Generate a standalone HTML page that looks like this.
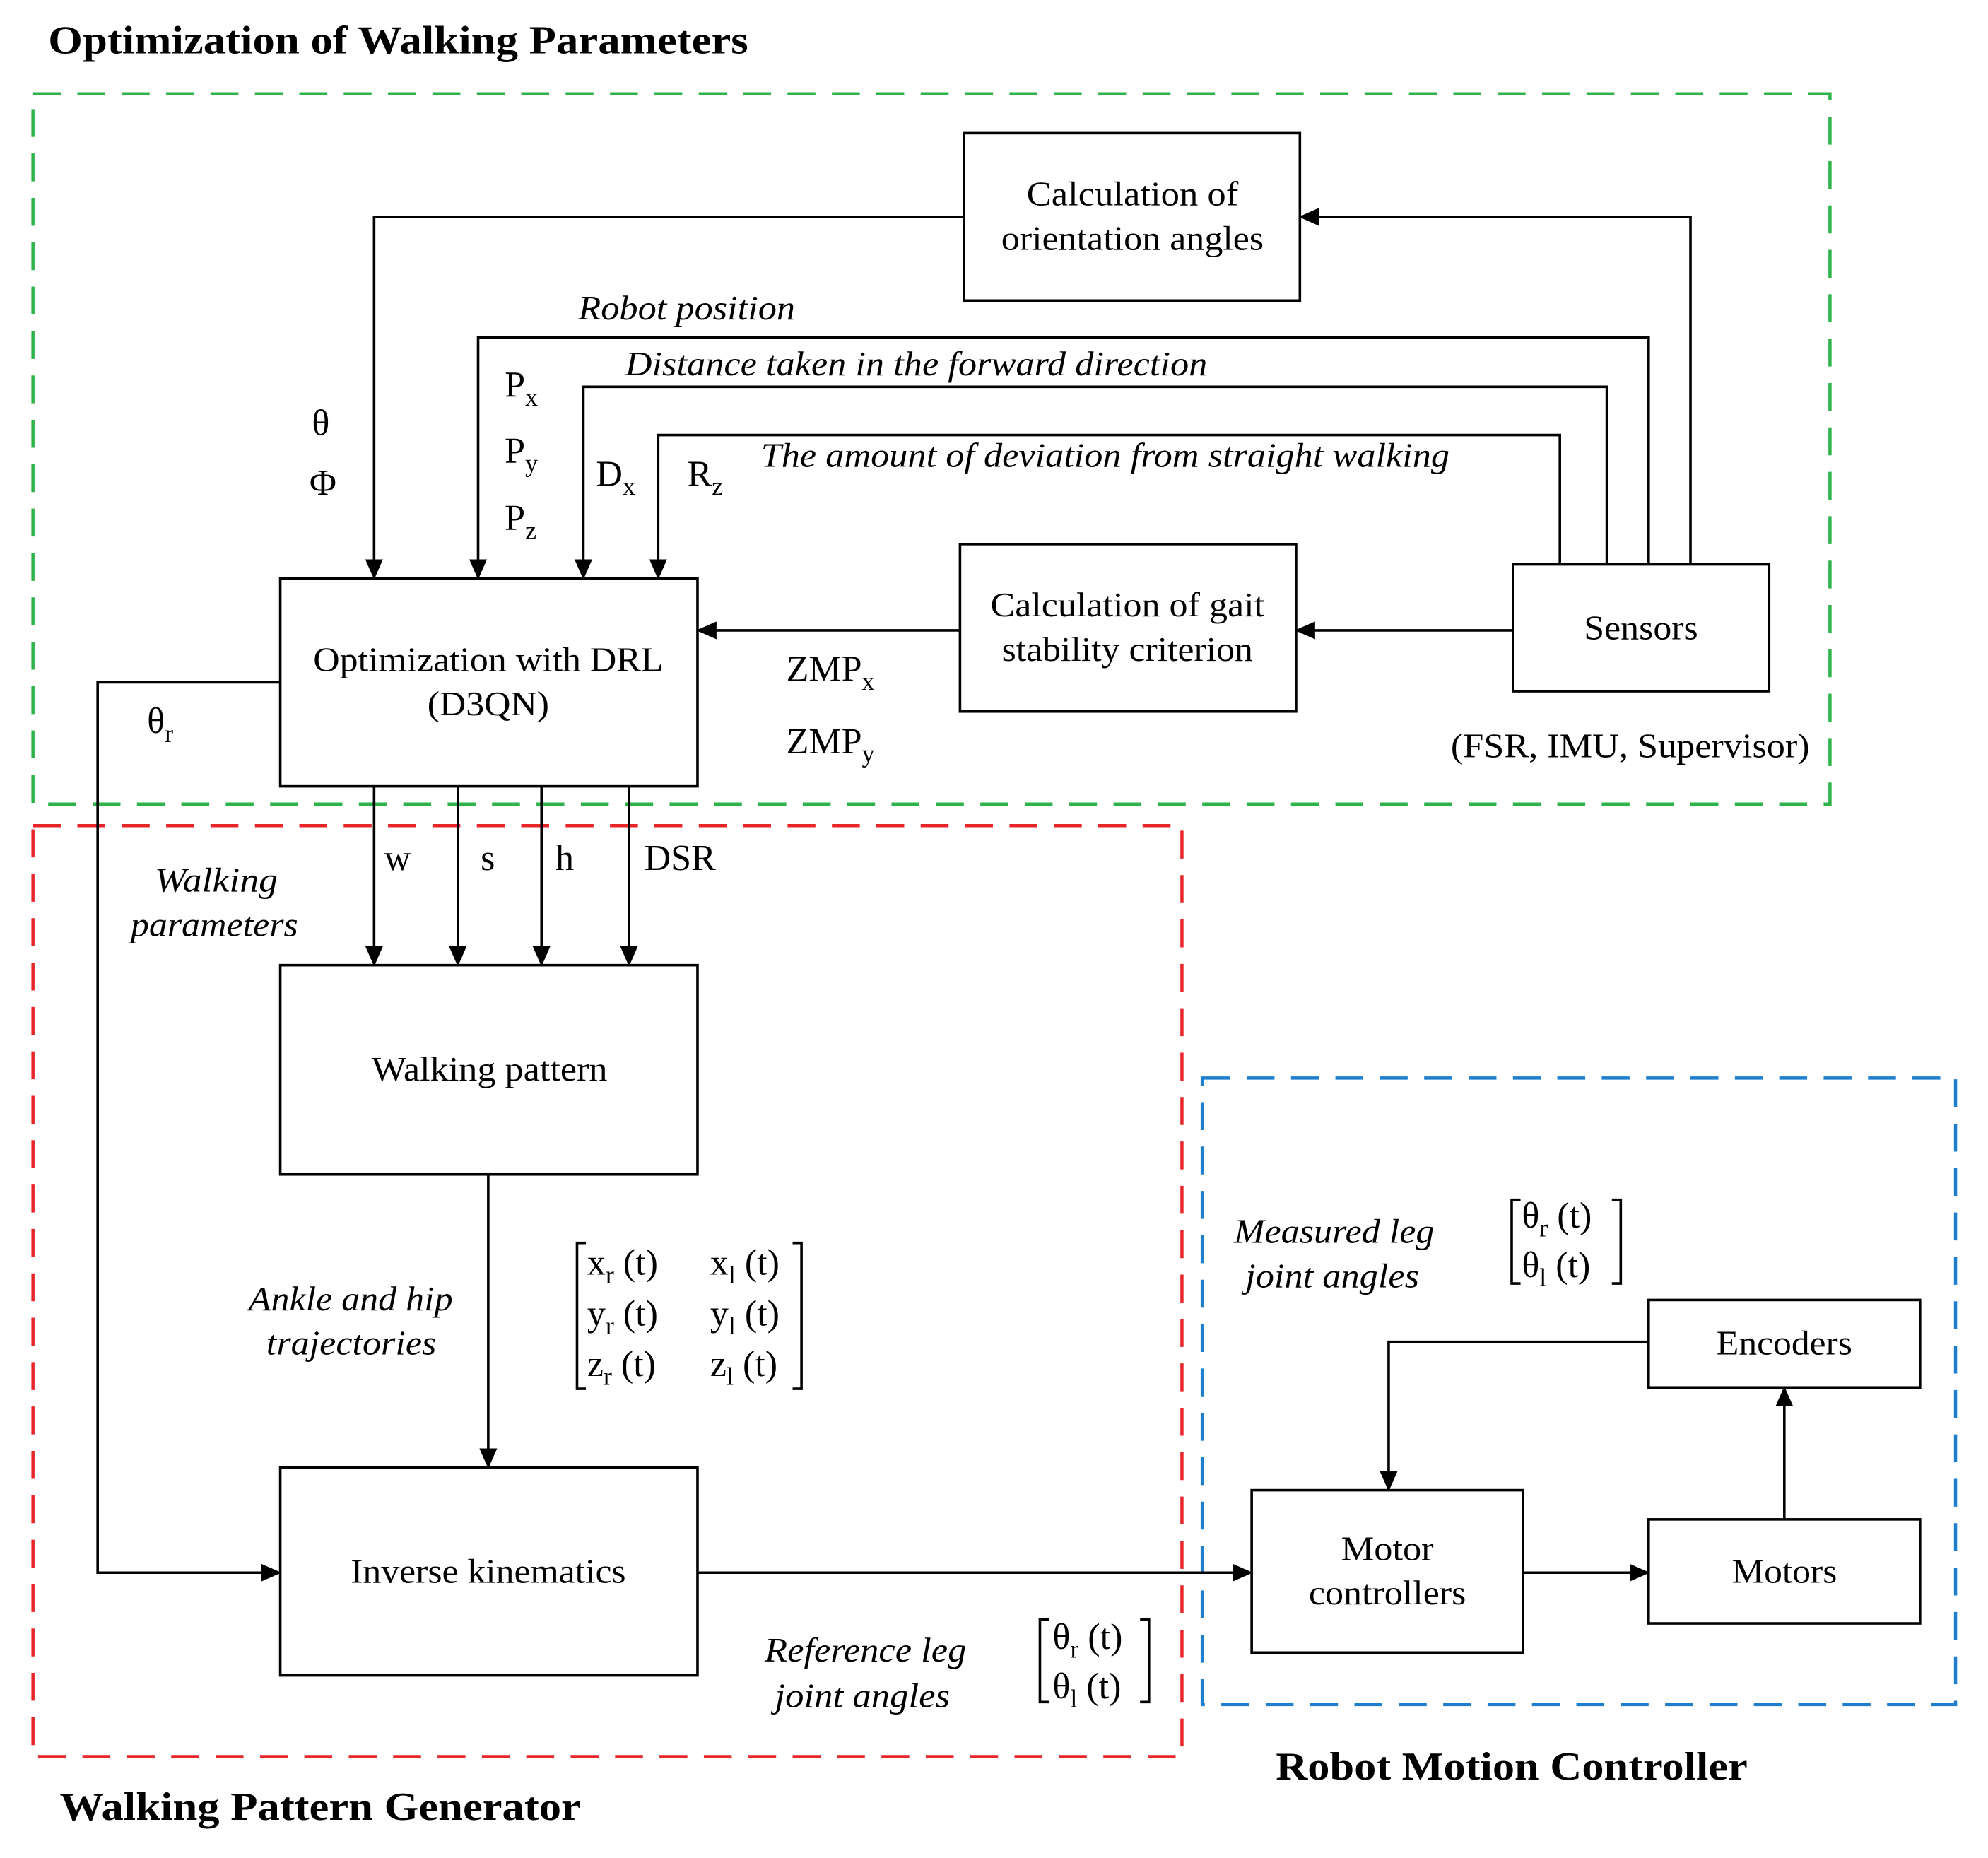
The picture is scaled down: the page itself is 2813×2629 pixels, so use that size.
<!DOCTYPE html>
<html><head><meta charset="utf-8"><style>html,body{margin:0;padding:0;background:#fff}</style></head><body>
<svg width="2813" height="2624" viewBox="0 0 1567.6 1462.2" preserveAspectRatio="none" xmlns="http://www.w3.org/2000/svg" font-family="Liberation Serif, serif" font-size="27">
<defs>
<marker id="b" markerWidth="16" markerHeight="14" refX="15" refY="7" orient="auto" markerUnits="userSpaceOnUse"><path d="M0,0 L16,7 L0,14 z" fill="#000"/></marker></defs>
<g font-weight="bold" font-size="31">
<text x="38" y="42" textLength="552" lengthAdjust="spacingAndGlyphs">Optimization of Walking Parameters</text>
<text x="1006" y="1403" textLength="372" lengthAdjust="spacingAndGlyphs">Robot Motion Controller</text>
<text x="47" y="1435" textLength="411" lengthAdjust="spacingAndGlyphs">Walking Pattern Generator</text>
</g>
<g fill="none" stroke-width="2.5" stroke-dasharray="22,13">
<rect x="26" y="74" width="1417" height="560" stroke="#2db34a"/>
<rect x="26" y="651" width="906" height="734" stroke="#e8262a"/>
<rect x="948" y="850" width="594" height="494" stroke="#1f7fcf"/>
</g>
<g fill="none" stroke="#000" stroke-width="2">
<rect x="760" y="105" width="265" height="132"/>
<rect x="221" y="456" width="329" height="164"/>
<rect x="757" y="429" width="265" height="132"/>
<rect x="1193" y="445" width="202" height="100"/>
<rect x="221" y="761" width="329" height="165"/>
<rect x="221" y="1157" width="329" height="164"/>
<rect x="987" y="1175" width="214" height="128"/>
<rect x="1300" y="1198" width="214" height="82"/>
<rect x="1300" y="1025" width="214" height="69"/>
</g>
<g fill="none" stroke="#000" stroke-width="2" marker-end="url(#b)">
<path d="M760,171 H295 V456"/>
<path d="M1333,445 V171 H1025"/>
<path d="M1300,445 V266 H377 V456"/>
<path d="M1267,445 V305 H460 V456"/>
<path d="M1230,445 V343 H519 V456"/>
<path d="M1193,497 H1022"/>
<path d="M757,497 H550"/>
<path d="M221,538 H77 V1240 H221"/>
<path d="M295,620 V761"/>
<path d="M361,620 V761"/>
<path d="M427,620 V761"/>
<path d="M496,620 V761"/>
<path d="M385,926 V1157"/>
<path d="M550,1240 H987"/>
<path d="M1201,1240 H1300"/>
<path d="M1407,1198 V1094"/>
<path d="M1300,1058 H1095 V1175"/>
</g>
<g text-anchor="middle">
<text x="893" y="162" textLength="167" lengthAdjust="spacingAndGlyphs">Calculation of</text>
<text x="893" y="197" textLength="207" lengthAdjust="spacingAndGlyphs">orientation angles</text>
<text x="385" y="529" textLength="276" lengthAdjust="spacingAndGlyphs">Optimization with DRL</text>
<text x="385" y="564" textLength="96" lengthAdjust="spacingAndGlyphs">(D3QN)</text>
<text x="889" y="486" textLength="216" lengthAdjust="spacingAndGlyphs">Calculation of gait</text>
<text x="889" y="521" textLength="198" lengthAdjust="spacingAndGlyphs">stability criterion</text>
<text x="1294" y="504" textLength="90" lengthAdjust="spacingAndGlyphs">Sensors</text>
<text x="386" y="852" textLength="186" lengthAdjust="spacingAndGlyphs">Walking pattern</text>
<text x="385" y="1248" textLength="217" lengthAdjust="spacingAndGlyphs">Inverse kinematics</text>
<text x="1094" y="1230" textLength="73" lengthAdjust="spacingAndGlyphs">Motor</text>
<text x="1094" y="1265" textLength="124" lengthAdjust="spacingAndGlyphs">controllers</text>
<text x="1407" y="1248" textLength="83" lengthAdjust="spacingAndGlyphs">Motors</text>
<text x="1407" y="1068" textLength="107" lengthAdjust="spacingAndGlyphs">Encoders</text>
</g>
<g font-style="italic">
<text x="456" y="252" textLength="171" lengthAdjust="spacingAndGlyphs">Robot position</text>
<text x="493" y="296" textLength="459" lengthAdjust="spacingAndGlyphs">Distance taken in the forward direction</text>
<text x="600" y="368" textLength="543" lengthAdjust="spacingAndGlyphs">The amount of deviation from straight walking</text>
<text x="122" y="703" textLength="97" lengthAdjust="spacingAndGlyphs">Walking</text>
<text x="103" y="738" textLength="132" lengthAdjust="spacingAndGlyphs">parameters</text>
<text x="196" y="1033" textLength="161" lengthAdjust="spacingAndGlyphs">Ankle and hip</text>
<text x="210" y="1068" textLength="134" lengthAdjust="spacingAndGlyphs">trajectories</text>
<text x="973" y="980" textLength="158" lengthAdjust="spacingAndGlyphs">Measured leg</text>
<text x="982" y="1015" textLength="137" lengthAdjust="spacingAndGlyphs">joint angles</text>
<text x="603" y="1310" textLength="159" lengthAdjust="spacingAndGlyphs">Reference leg</text>
<text x="611" y="1346" textLength="138" lengthAdjust="spacingAndGlyphs">joint angles</text>
</g>
<g font-size="29">
<text x="246" y="343">θ</text><text x="244" y="390">Φ</text>
<text x="398" y="313">P<tspan font-size="20" dy="7">x</tspan></text>
<text x="398" y="365">P<tspan font-size="20" dy="7">y</tspan></text>
<text x="398" y="418">P<tspan font-size="20" dy="7">z</tspan></text>
<text x="470" y="383">D<tspan font-size="20" dy="7">x</tspan></text>
<text x="542" y="383">R<tspan font-size="20" dy="7">z</tspan></text>
<text x="620" y="537">ZMP<tspan font-size="20" dy="7">x</tspan></text>
<text x="620" y="594">ZMP<tspan font-size="20" dy="7">y</tspan></text>
<text x="116" y="578">θ<tspan font-size="20" dy="7">r</tspan></text>
<text x="303" y="686">w</text><text x="379" y="686">s</text><text x="438" y="686">h</text><text x="508" y="686">DSR</text>
<text x="463" y="1005">x<tspan font-size="20" dy="7">r</tspan><tspan dy="-7"> (t)</tspan></text>
<text x="463" y="1045">y<tspan font-size="20" dy="7">r</tspan><tspan dy="-7"> (t)</tspan></text>
<text x="463" y="1085">z<tspan font-size="20" dy="7">r</tspan><tspan dy="-7"> (t)</tspan></text>
<text x="560" y="1005">x<tspan font-size="20" dy="7">l</tspan><tspan dy="-7"> (t)</tspan></text>
<text x="560" y="1045">y<tspan font-size="20" dy="7">l</tspan><tspan dy="-7"> (t)</tspan></text>
<text x="560" y="1085">z<tspan font-size="20" dy="7">l</tspan><tspan dy="-7"> (t)</tspan></text>
<text x="1200" y="968">θ<tspan font-size="20" dy="7">r</tspan><tspan dy="-7"> (t)</tspan></text>
<text x="1200" y="1007">θ<tspan font-size="20" dy="7">l</tspan><tspan dy="-7"> (t)</tspan></text>
<text x="830" y="1300">θ<tspan font-size="20" dy="7">r</tspan><tspan dy="-7"> (t)</tspan></text>
<text x="830" y="1339">θ<tspan font-size="20" dy="7">l</tspan><tspan dy="-7"> (t)</tspan></text>
</g>
<text x="1144" y="597" textLength="283" lengthAdjust="spacingAndGlyphs">(FSR, IMU, Supervisor)</text>
<g fill="none" stroke="#000" stroke-width="2">
<path d="M462,980 H455 V1095 H462"/><path d="M625,980 H632 V1095 H625"/>
<path d="M1199,946 H1192 V1012 H1199"/><path d="M1271,946 H1278 V1012 H1271"/>
<path d="M827,1277 H820 V1342 H827"/><path d="M899,1277 H906 V1342 H899"/>
</g>
</svg>
</body></html>
